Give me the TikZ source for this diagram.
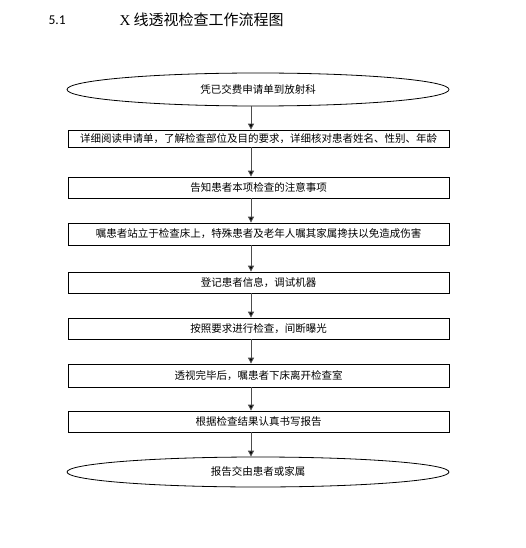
\documentclass[tikz,border=0pt]{standalone}
\usepackage{fontspec}
\newfontfamily\cjk{Noto Sans CJK SC}
\newfontfamily\carl{Carlito}
\newfontfamily\tnr{Liberation Serif}
\usetikzlibrary{shapes.geometric,arrows.meta}
\begin{document}
\begin{tikzpicture}[x=1pt,y=-1pt,
  boxstyle/.style={draw=black,line width=0.8pt,rectangle,minimum width=381pt,inner sep=0pt,font=\cjk\fontsize{10.5pt}{12pt}\selectfont},
  ovalstyle/.style={draw=black,line width=0.8pt,ellipse,minimum width=382pt,inner sep=0pt,font=\cjk\fontsize{10.5pt}{12pt}\selectfont},
  arr/.style={draw=black!70,line width=0.9pt,-{Triangle[width=6pt,length=6pt,fill=black]}}]
\useasboundingbox (0,0) rectangle (525,548);
\node[anchor=west,font=\carl\fontsize{13.5pt}{15pt}\selectfont] (num) at (45,20) {5.1};
\node[anchor=west,font=\cjk\fontsize{15pt}{17pt}\selectfont] (title) at (116,20) {{\tnr X} 线透视检查工作流程图};
\coordinate (ax) at (251,0);
\node[ovalstyle,minimum height=33pt] (e1) at (258,89.5) {凭已交费申请单到放射科};
\node[boxstyle,minimum height=17pt] (b2) at (258.5,138.5) {详细阅读申请单，了解检查部位及目的要求，详细核对患者姓名、性别、年龄};
\node[boxstyle,minimum height=21pt] (b3) at (258.5,187.5) {告知患者本项检查的注意事项};
\node[boxstyle,minimum height=22pt] (b4) at (258.5,234) {嘱患者站立于检查床上，特殊患者及老年人嘱其家属搀扶以免造成伤害};
\node[boxstyle,minimum height=21pt] (b5) at (258.5,282.5) {登记患者信息，调试机器};
\node[boxstyle,minimum height=21pt] (b6) at (258.5,328.5) {按照要求进行检查，间断曝光};
\node[boxstyle,minimum height=23pt] (b7) at (258.5,375.5) {透视完毕后，嘱患者下床离开检查室};
\node[boxstyle,minimum height=21pt] (b8) at (258.5,421.5) {根据检查结果认真书写报告};
\node[ovalstyle,minimum height=30pt] (e2) at (258,472) {报告交由患者或家属};
\draw[arr] (e1.south -| ax) -- (b2.north -| ax);
\draw[arr] (b2.south -| ax) -- (b3.north -| ax);
\draw[arr] (b3.south -| ax) -- (b4.north -| ax);
\draw[arr] (b4.south -| ax) -- (b5.north -| ax);
\draw[arr] (b5.south -| ax) -- (b6.north -| ax);
\draw[arr] (b6.south -| ax) -- (b7.north -| ax);
\draw[arr] (b7.south -| ax) -- (b8.north -| ax);
\draw[arr] (b8.south -| ax) -- (e2.north -| ax);
\end{tikzpicture}
\end{document}
